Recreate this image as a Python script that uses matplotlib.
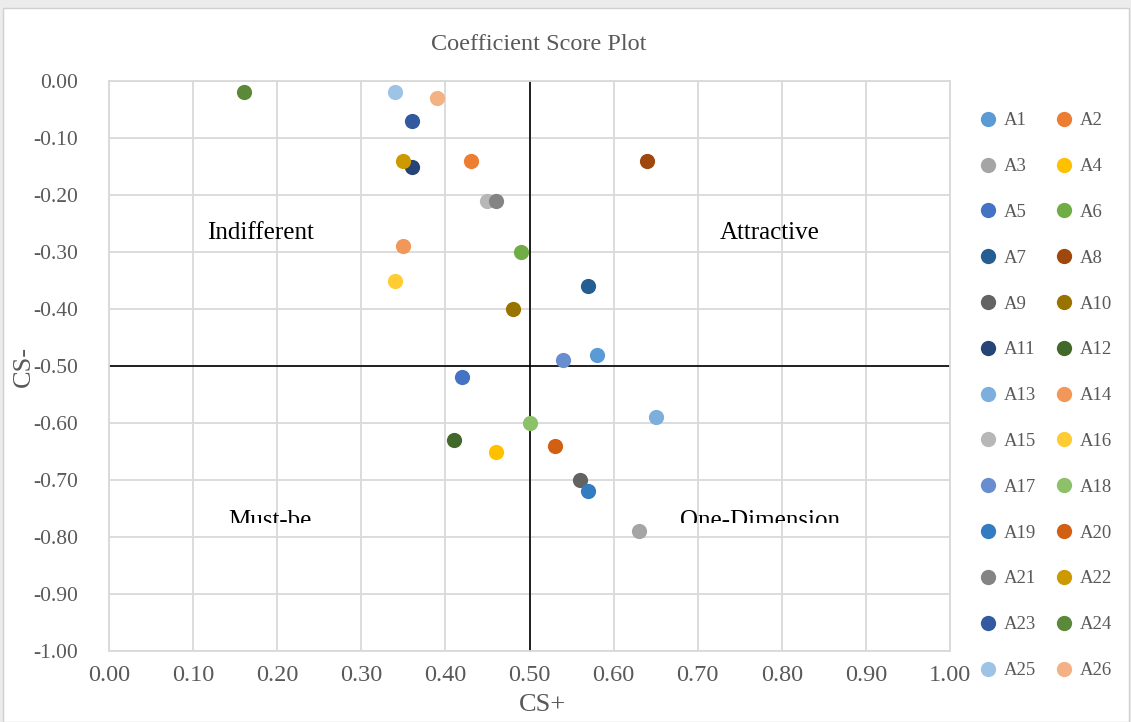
import matplotlib
matplotlib.use("Agg")
import matplotlib.pyplot as plt
from matplotlib.lines import Line2D
from matplotlib.patches import Rectangle

labels = [f"A{i}" for i in range(1, 27)]
cs_plus = [0.58, 0.43, 0.63, 0.46, 0.42, 0.49, 0.57, 0.64, 0.56, 0.48,
           0.36, 0.41, 0.65, 0.35, 0.45, 0.34, 0.54, 0.50, 0.57, 0.53,
           0.46, 0.35, 0.36, 0.16, 0.34, 0.39]
cs_minus = [-0.48, -0.14, -0.79, -0.65, -0.52, -0.30, -0.36, -0.14, -0.70, -0.40,
            -0.15, -0.63, -0.59, -0.29, -0.21, -0.35, -0.49, -0.60, -0.72, -0.64,
            -0.21, -0.14, -0.07, -0.02, -0.02, -0.03]
colors = ["#5B9BD5", "#ED7D31", "#A5A5A5", "#FFC000", "#4472C4", "#70AD47",
          "#255E91", "#9E480E", "#636363", "#997300", "#264478", "#43682B",
          "#7CAFDD", "#F1975A", "#B7B7B7", "#FFCD33", "#698ED0", "#8CC168",
          "#327DC2", "#D26012", "#848484", "#CC9A00", "#335AA1", "#5A8A39",
          "#9DC3E6", "#F4B183"]
quadrants = ["Indifferent", "Attractive", "Must-be", "One-Dimension"]
quad_pos = [(0.180, -0.267), (0.785, -0.267), (0.191, -0.7816), (0.774, -0.7816)]
xticks = [i / 10 for i in range(11)]
yticks = [-i / 10 for i in range(11)]

plt.rcParams['font.family'] = ['Liberation Serif', 'DejaVu Serif']
fig = plt.figure(figsize=(11.31, 7.22), dpi=100)
fig.patch.set_facecolor("#ECECEC")
fig.add_artist(Rectangle((3 / 1131, 0.0), 1126 / 1131, 1 - 8 / 722,
                         transform=fig.transFigure, facecolor="white",
                         edgecolor="#D0D0D0", linewidth=1.0, zorder=0))

ax = fig.add_axes([0.0964, 0.0983, 0.7436, 0.7895])
ax.set_xlim(0, 1)
ax.set_ylim(-1, 0)
ax.set_xticks(xticks)
ax.set_yticks(yticks)
ax.set_xticklabels([f"{v:.2f}" for v in xticks])
ax.set_yticklabels([f"{v:.2f}" for v in yticks])
ax.tick_params(length=0, colors="#595959")
ax.tick_params(axis="x", labelsize=17.5, pad=10)
ax.tick_params(axis="y", labelsize=15.5, pad=22)
ax.grid(True, color="#D9D9D9", linewidth=1.3)
ax.set_axisbelow(True)
for s in ax.spines.values():
    s.set_color("#D9D9D9")
    s.set_linewidth(1.3)
ax.axvline(0.5, color="black", linewidth=1.2, zorder=2)
ax.axhline(-0.5, color="black", linewidth=1.2, zorder=2)

handles = []
for lab, x, y, c in zip(labels, cs_plus, cs_minus, colors):
    ax.scatter([x], [y], s=120, color=c, zorder=3, linewidths=0)
    handles.append(Line2D([], [], marker="o", linestyle="", markersize=11,
                          markerfacecolor=c, markeredgewidth=0, label=lab))

for i, (t, (qx, qy)) in enumerate(zip(quadrants, quad_pos)):
    if i < 2:
        ax.text(qx, qy, t, ha="center", va="center", fontsize=18,
                color="black", zorder=4)
    else:
        txt = ax.text(qx, qy, t, ha="center", va="baseline", fontsize=18,
                      color="black", zorder=4, clip_on=True)
        clip = Rectangle((0, -0.7754), 1, 0.3, transform=ax.transData)
        txt.set_clip_path(clip)

fig.text(542 / 1131, 1 - 705 / 722, "CS+", ha="center", va="center",
         fontsize=19, color="#595959")
fig.text(24 / 1131, 1 - 366 / 722, "CS-", ha="center", va="center",
         fontsize=19, color="#595959", rotation=90)
fig.text(539 / 1131, 1 - 45 / 722, "Coefficient Score Plot", ha="center",
         va="center", fontsize=17.5, color="#595959")

# legend ordered row-wise (A1 A2 / A3 A4 ...) -> matplotlib fills column-wise
order = list(range(0, 26, 2)) + list(range(1, 26, 2))
leg = fig.legend([handles[i] for i in order], [labels[i] for i in order],
                 ncol=2, loc="upper left", bbox_to_anchor=(0.8585, 0.855),
                 frameon=False, fontsize=13.5, labelcolor="#595959",
                 handletextpad=0.35, columnspacing=1.0, labelspacing=1.53,
                 handlelength=1.0, borderaxespad=0)

fig.savefig("out.png", dpi=100, facecolor=fig.get_facecolor())
